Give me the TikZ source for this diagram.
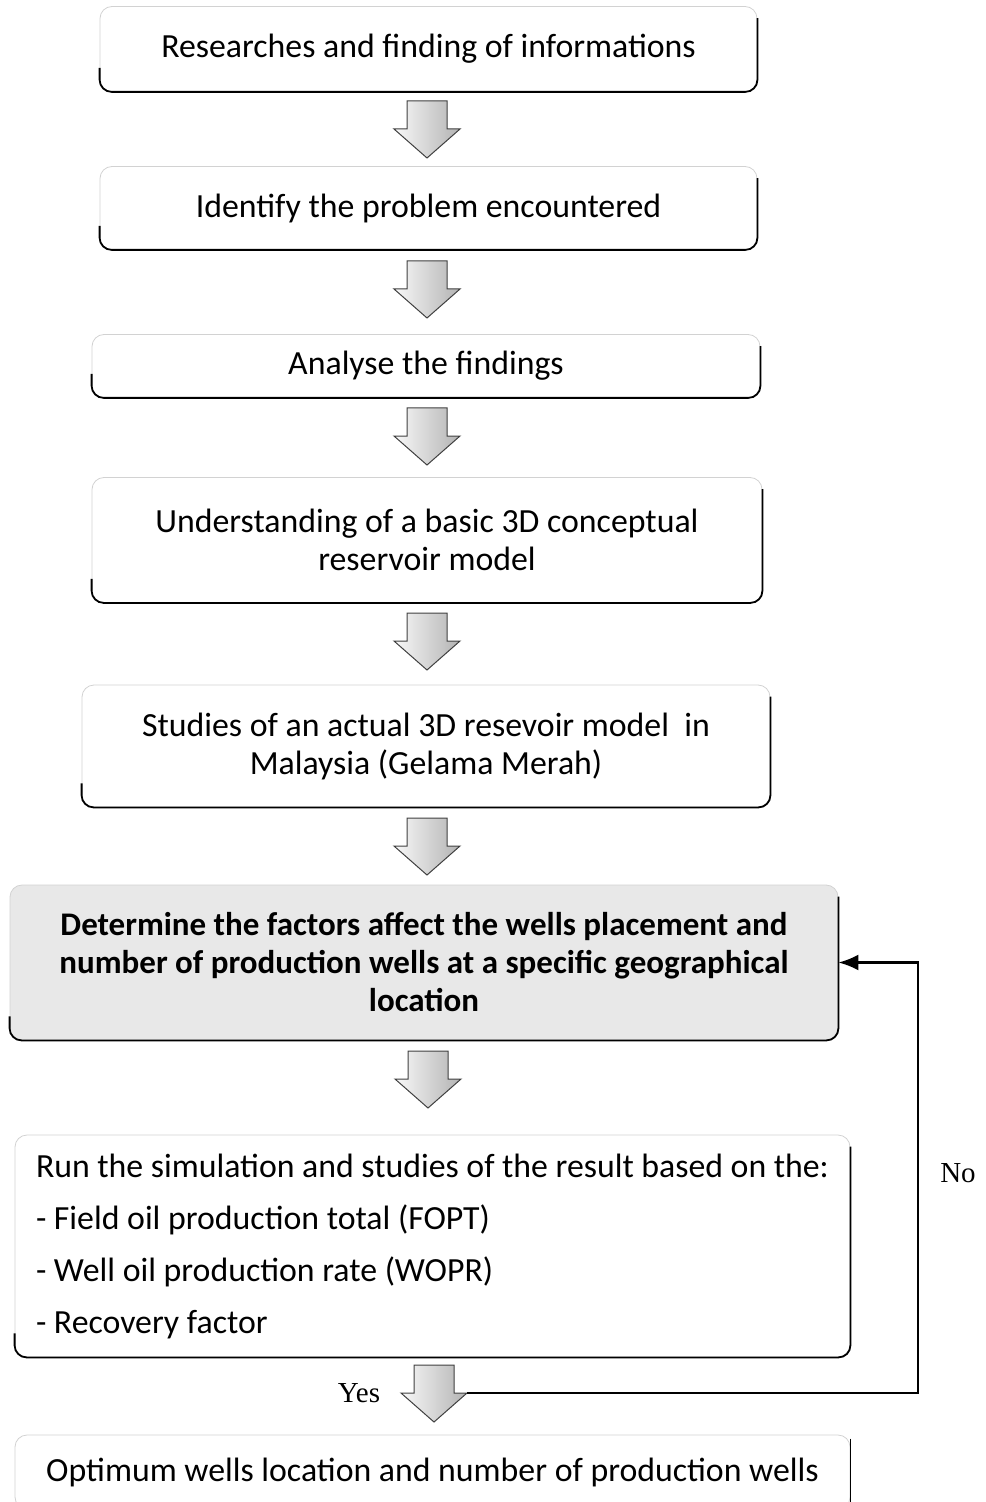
\documentclass[tikz,border=0pt]{standalone}
\usepackage{fontspec}
\setmainfont{Carlito}
\newfontfamily\tnr{Liberation Serif}
\usetikzlibrary{arrows.meta,calc}
\newlength\pxu
\setlength\pxu{0.5pt}
\newcommand\blockarrow[3]{%
  \path (#2,#3) coordinate (#1);
  \path ($(#1)+(33,28)$) coordinate (#1-hr);
  \draw[blk] ($(#1)+(-20,0)$) -- ($(#1)+(20,0)$) -- ($(#1)+(20,28)$) -- (#1-hr) -- ($(#1)+(0,57)$) -- ($(#1)+(-33,28)$) -- ($(#1)+(-20,28)$) -- cycle;
}
\begin{document}
\begin{tikzpicture}[x=0.5pt,y=-0.5pt,
  box/.style={draw=gray!35, line width=0.4pt, rounded corners=6pt, inner sep=0pt, align=center, font=\fontsize{16.9}{19}\selectfont},
  darkedge/.style={line width=0.9pt, rounded corners=6pt},
  blk/.style={draw=black!75, line width=0.5pt, left color=gray!5, right color=gray!60},
  flow/.style={line width=1.2pt},
  lbl/.style={font=\tnr\fontsize{14.5}{17}\selectfont}]
\useasboundingbox (0,0) rectangle (985,1502);

\node[box, minimum width=657*\pxu, minimum height=85*\pxu] (b1) at (428.5,49) {Researches and finding of informations};
\node[box, minimum width=657*\pxu, minimum height=83*\pxu] (b2) at (428.5,208) {Identify the problem encountered};
\node[box, minimum width=668*\pxu, minimum height=63*\pxu] (b3) at (426,366) {Analyse the findings};
\node[box, minimum width=670*\pxu, minimum height=125*\pxu] (b4) at (427,540) {Understanding of a basic 3D conceptual\\reservoir model};
\node[box, minimum width=688*\pxu, minimum height=122*\pxu] (b5) at (426,746) {Studies of an actual 3D resevoir model\ \ in\\Malaysia (Gelama Merah)};
\node[box, fill=gray!18, minimum width=828*\pxu, minimum height=155*\pxu, font=\bfseries\fontsize{16.5}{19}\selectfont] (b6) at (424,962.5) {Determine the factors affect the wells placement and\\number of production wells at a specific geographical\\location};
\node[box, align=flush left, text width=793*\pxu, inner xsep=21*\pxu, minimum height=222*\pxu, font=\fontsize{16.9}{26}\selectfont] (b7) at (432.5,1246) {Run the simulation and studies of the result based on the:\\- Field oil production total (FOPT)\\- Well oil production rate (WOPR)\\- Recovery factor};
\node[box, minimum width=835*\pxu, minimum height=74*\pxu] (b8) at (432.5,1472) {Optimum wells location and number of production wells};

\foreach \b in {b1,b2,b3,b4,b5,b6,b7}
  \draw[darkedge] ([yshift=12pt]\b.south west) -- (\b.south west) -- (\b.south east) -- ([yshift=-6pt]\b.north east);
\draw[darkedge] ([yshift=-2pt]b8.north east) -- (b8.south east);

\blockarrow{a1}{427}{101}
\blockarrow{a2}{427}{261}
\blockarrow{a3}{427}{408}
\blockarrow{a4}{427}{613}
\blockarrow{a5}{427}{818}
\blockarrow{a6}{428}{1051}
\blockarrow{a7}{434}{1365}

\coordinate (turn) at (918,1393);
\draw[flow, -{Latex[length=10pt,width=8pt]}] (a7-hr) -- (turn) |- (b6.east);

\node[lbl] (yes) at (359,1393) {Yes};
\node[lbl] (no) at (958,1173) {No};
\end{tikzpicture}
\end{document}
